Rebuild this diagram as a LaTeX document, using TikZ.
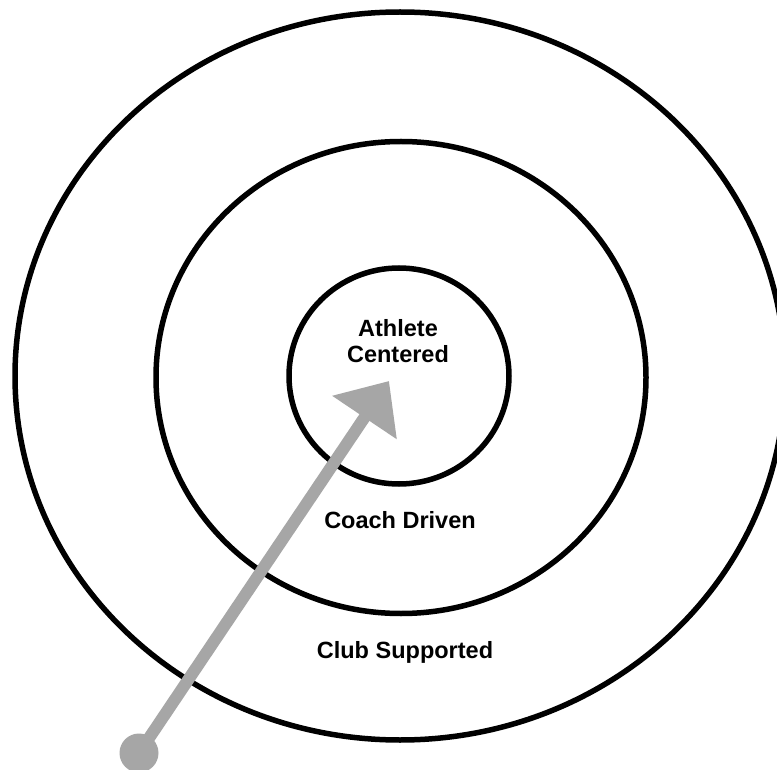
\documentclass[tikz,border=0pt]{standalone}
\usepackage{fontspec}
\setmainfont{Liberation Sans}
\usetikzlibrary{arrows.meta}
\definecolor{arrowgray}{RGB}{166,166,166}
\begin{document}
\begin{tikzpicture}[x=1pt,y=-1pt,
  ring/.style={draw=black,line width=5.5pt},
  lbl/.style={font=\fontsize{23.5}{26}\selectfont\bfseries,align=center,inner sep=0pt},
  pointer/.style={draw=arrowgray,line width=12pt,-{Triangle[length=44pt,width=75pt]}}]
\useasboundingbox (0,0) rectangle (777,770);
\clip (0,0) rectangle (777,770);
\fill[white] (0,0) rectangle (777,770);
\draw[ring] (400,376) ellipse [x radius=385pt, y radius=364pt];
\draw[ring] (401,377.5) ellipse [x radius=245pt, y radius=236pt];
\draw[ring] (399,376) ellipse [x radius=110pt, y radius=108pt];
\node[lbl] (athlete) at (398,341) {Athlete\\Centered};
\node[lbl] (coach) at (400,520) {Coach Driven};
\node[lbl] (club) at (405,652) {Club Supported};
\node[circle,fill=arrowgray,minimum size=39pt,inner sep=0pt] (start) at (139,753) {};
\coordinate (tip) at (389,381);
\draw[pointer] (start.center) -- (tip);
\end{tikzpicture}
\end{document}
